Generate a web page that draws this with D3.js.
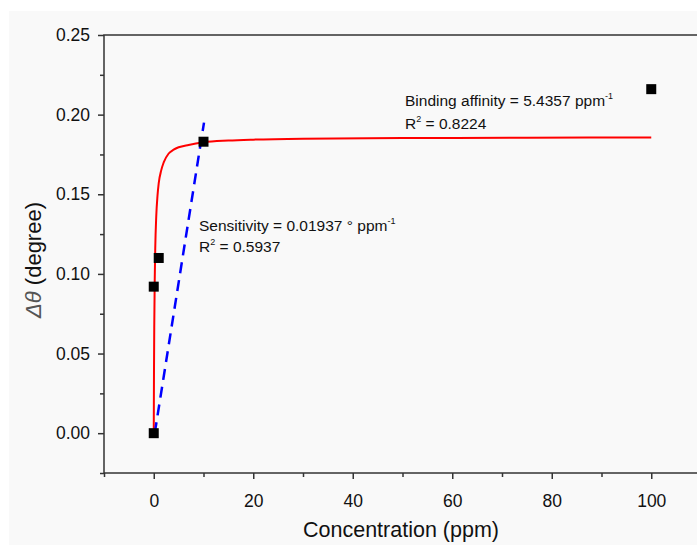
<!DOCTYPE html>
<html>
<head>
<meta charset="utf-8">
<script src="https://cdn.jsdelivr.net/npm/d3@7"></script>
<style>
  body { margin: 0; background: #fff; }
  text { font-family: "Liberation Sans", Arial, sans-serif; fill: #111; }
</style>
</head>
<body>
<div id="chart"></div>
<script>
// measured points
var concX = [0, 0, 1, 10, 100];
var shiftY = [0.000, 0.092, 0.110, 0.183, 0.216];

// red fit curve
var fitX = [0, 0.05, 0.1, 0.2, 0.3, 0.5, 0.75, 1, 1.5, 2, 3, 4, 5, 7, 10, 15, 20, 30, 50, 75, 100];
var fitY = [0, 0.040, 0.066, 0.097, 0.116, 0.136, 0.149, 0.157, 0.165, 0.170, 0.1756, 0.178, 0.1795,
            0.181, 0.1826, 0.1837, 0.1843, 0.1849, 0.1853, 0.1855, 0.1857];

// blue dashed linear fit
var linX = [0.2, 10.1];
var linY = [0.000, 0.195];

var xMajor = [0, 20, 40, 60, 80, 100];
var xMinor = [-10, 10, 30, 50, 70, 90];
var yMajor = [0, 0.05, 0.10, 0.15, 0.20, 0.25];
var yMinor = [-0.025, 0.025, 0.075, 0.125, 0.175, 0.225];

var svgWidth = 697, svgHeight = 545;
var margin = {top: 35, left: 104, bottom: 72, right: -4};
var chartWidth = svgWidth - margin.left - margin.right;
var chartHeight = svgHeight - margin.top - margin.bottom;

var svg = d3.select('#chart')
    .append('svg')
    .attr('width', svgWidth)
    .attr('height', svgHeight);

// grey panel
svg.append('rect')
    .attr('x', 9).attr('y', 11)
    .attr('width', svgWidth - 9).attr('height', svgHeight - 11)
    .attr('fill', '#f9f9f9');

var chart = svg.append('g').attr('transform', `translate(${margin.left}, ${margin.top})`);

var x = d3.scaleLinear().domain([-10, 110]).range([0, chartWidth]);
var y = d3.scaleLinear().domain([-0.025, 0.25]).range([chartHeight, 0]);

// frame
chart.append('rect')
    .attr('width', chartWidth).attr('height', chartHeight)
    .attr('fill', 'none').attr('stroke', '#333').attr('stroke-width', 1.5);

// axes
function styleAxis(g) {
    g.select('.domain').remove();
    g.selectAll('line').attr('stroke', '#333').attr('stroke-width', 1.5);
    g.selectAll('text').style('font-size', '17.5px').attr('fill', '#111');
}
chart.append('g')
    .attr('transform', `translate(0, ${chartHeight})`)
    .call(d3.axisBottom(x).tickValues(xMajor).tickSize(6).tickPadding(16).tickFormat(d3.format('d')))
    .call(styleAxis);
chart.append('g')
    .attr('transform', `translate(0, ${chartHeight})`)
    .call(d3.axisBottom(x).tickValues(xMinor).tickSize(4).tickFormat(''))
    .call(styleAxis);
chart.append('g')
    .call(d3.axisLeft(y).tickValues(yMajor).tickSize(6).tickPadding(8).tickFormat(d3.format('.2f')))
    .call(styleAxis);
chart.append('g')
    .call(d3.axisLeft(y).tickValues(yMinor).tickSize(4).tickFormat(''))
    .call(styleAxis);

// fit curve
var fitData = fitX.map((d, i) => [d, fitY[i]]);
chart.append('path')
    .datum(fitData)
    .attr('fill', 'none')
    .attr('stroke', '#ff0000')
    .attr('stroke-width', 2)
    .attr('d', d3.line().x(d => x(d[0])).y(d => y(d[1])).curve(d3.curveMonotoneX));

// linear fit
var linData = linX.map((d, i) => [d, linY[i]]);
chart.append('path')
    .datum(linData)
    .attr('fill', 'none')
    .attr('stroke', '#0000ff')
    .attr('stroke-width', 2.5)
    .attr('stroke-dasharray', '11,7')
    .attr('d', d3.line().x(d => x(d[0])).y(d => y(d[1])));

// points
chart.selectAll('rect.pt')
    .data(concX.map((d, i) => [d, shiftY[i]]))
    .enter()
    .append('rect')
    .attr('class', 'pt')
    .attr('x', d => x(d[0]) - 5)
    .attr('y', d => y(d[1]) - 5)
    .attr('width', 10).attr('height', 10)
    .attr('fill', '#000');

// annotations
function note(px, py, label, sup, tail) {
    var t = svg.append('text').attr('x', px).attr('y', py).style('font-size', '15.5px');
    t.append('tspan').text(label);
    t.append('tspan').attr('dy', -7).style('font-size', '9px').text(sup);
    if (tail) t.append('tspan').attr('dy', 7).text(tail);
}
note(405, 106, 'Binding affinity = 5.4357 ppm', '-1');
note(405, 129, 'R', '2', ' = 0.8224');
note(199, 231, 'Sensitivity = 0.01937 \u00b0 ppm', '-1');
note(199, 252, 'R', '2', ' = 0.5937');

// axis titles
svg.append('text')
    .attr('x', 401).attr('y', 537)
    .style('font-size', '21.5px')
    .style('text-anchor', 'middle')
    .text('Concentration (ppm)');

var yt = svg.append('text')
    .attr('transform', 'translate(41, 260) rotate(-90)')
    .style('font-size', '22px')
    .style('text-anchor', 'middle');
yt.append('tspan').style('font-style', 'italic').attr('fill', '#555').text('\u0394\u03b8');
yt.append('tspan').text(' (degree)');
</script>
</body>
</html>
